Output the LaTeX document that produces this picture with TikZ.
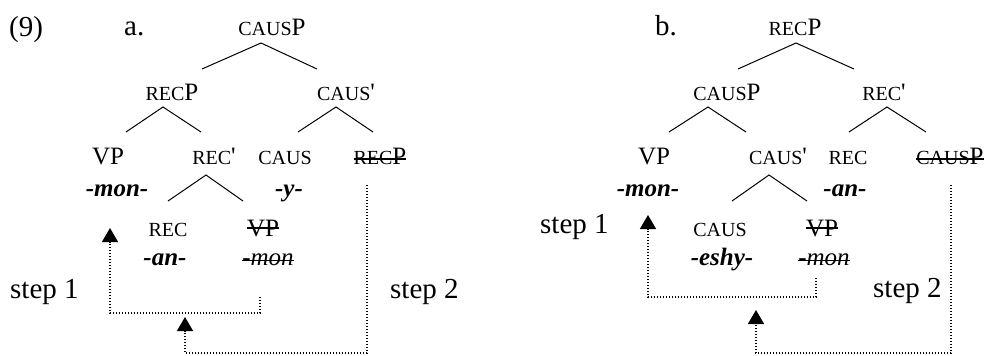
\documentclass[tikz,border=0pt]{standalone}
\usepackage{fontspec}
\setmainfont{Liberation Serif}
\usetikzlibrary{arrows.meta}
\newcommand\sm[1]{{\fontsize{20pt}{20pt}\selectfont #1}}
\newcommand\strk[2]{\setbox0\hbox{#2}\rlap{\rule[#1]{\wd0}{1.4pt}}\box0}
\newcommand\bi[1]{\textbf{\textit{#1}}}
\newcommand\apo{\textquotesingle}
\begin{document}
\begin{tikzpicture}[x=1pt,y=-1pt,
  every node/.style={font=\fontsize{25pt}{28pt}\selectfont, inner sep=0pt, anchor=base},
  lbl/.style={anchor=base west, font=\fontsize{29pt}{32pt}\selectfont},
  edge/.style={line width=1pt},
  mv/.style={line width=1.3pt, dash pattern=on 1.3pt off 1.7pt, -{Triangle[width=16pt,length=14pt]}}]
\useasboundingbox (0,0) rectangle (989,356);
% ---------- tree a ----------
\node[lbl] (n9) at (9,36) {(9)};
\node[lbl] (la) at (124,35) {a.};
\node (aroot) at (272,35) {\sm{CAUS}P};
\node (arecP) at (172,100) {\sm{REC}P};
\node (acausb) at (346,100) {\sm{CAUS}\apo};
\node (aVP) at (108,164) {VP};
\node (arecb) at (214,164) {\sm{REC}\apo};
\node (acaus) at (285,164) {\sm{CAUS}};
\node (arecPs) at (380,164) {\strk{4.5pt}{\sm{REC}P}};
\node (amon) at (117,196) {\bi{-mon-}};
\node (ay) at (289,196) {\bi{-y-}};
\node (arec) at (168,236) {\sm{REC}};
\node (aVPs) at (263,236) {\strk{7.5pt}{VP}};
\node (aan) at (165,265) {\bi{-an-}};
\node (amons) at (268,265) {\strk{4pt}{\textit{-mon}}};
\node[lbl] (astep1) at (10,298) {step 1};
\node[lbl] (astep2) at (390,298) {step 2};
\coordinate (a1) at (261,43); \coordinate (a1l) at (202,69); \coordinate (a1r) at (317,69);
\coordinate (a2) at (163,107); \coordinate (a2l) at (126,132); \coordinate (a2r) at (201,132);
\coordinate (a3) at (336,107); \coordinate (a3l) at (298,132); \coordinate (a3r) at (373,132);
\coordinate (a4) at (206,175); \coordinate (a4l) at (168,201); \coordinate (a4r) at (243,201);
\draw[edge] (a1l) -- (a1) -- (a1r);
\draw[edge] (a2l) -- (a2) -- (a2r);
\draw[edge] (a3l) -- (a3) -- (a3r);
\draw[edge] (a4l) -- (a4) -- (a4r);
\coordinate (am1s) at (260,297); \coordinate (am1t) at (110,228);
\coordinate (am2s) at (367,185); \coordinate (am2t) at (185,317);
\draw[mv] (am1s) -- (260,313) -- (110,313) -- (am1t);
\draw[mv] (am2s) -- (367,353) -- (185,353) -- (am2t);
% ---------- tree b ----------
\node[lbl] (lb) at (655,35) {b.};
\node (broot) at (795,35) {\sm{REC}P};
\node (bcausP) at (727,100) {\sm{CAUS}P};
\node (brecb) at (884,100) {\sm{REC}\apo};
\node (bVP) at (654,164) {VP};
\node (bcausb) at (778,164) {\sm{CAUS}\apo};
\node (brec) at (848,164) {\sm{REC}};
\node (bcausPs) at (950,164) {\strk{4.5pt}{\sm{CAUS}P}};
\node (bmon) at (648,196) {\bi{-mon-}};
\node (ban) at (845,196) {\bi{-an-}};
\node[lbl] (bstep1) at (540,233) {step 1};
\node (bcaus) at (720,236) {\sm{CAUS}};
\node (bVPs) at (822,236) {\strk{7.5pt}{VP}};
\node (beshy) at (722,265) {\bi{-eshy-}};
\node (bmons) at (824,265) {\strk{4pt}{\textit{-mon}}};
\node[lbl] (bstep2) at (873,297) {step 2};
\coordinate (b1) at (796,43); \coordinate (b1l) at (738,69); \coordinate (b1r) at (854,69);
\coordinate (b2) at (708,107); \coordinate (b2l) at (669,132); \coordinate (b2r) at (746,132);
\coordinate (b3) at (887,107); \coordinate (b3l) at (849,132); \coordinate (b3r) at (926,132);
\coordinate (b4) at (769,175); \coordinate (b4l) at (732,201); \coordinate (b4r) at (807,201);
\draw[edge] (b1l) -- (b1) -- (b1r);
\draw[edge] (b2l) -- (b2) -- (b2r);
\draw[edge] (b3l) -- (b3) -- (b3r);
\draw[edge] (b4l) -- (b4) -- (b4r);
\coordinate (bm1s) at (816,278); \coordinate (bm1t) at (648,215);
\coordinate (bm2s) at (951,185); \coordinate (bm2t) at (756,310);
\draw[mv] (bm1s) -- (816,297) -- (648,297) -- (bm1t);
\draw[mv] (bm2s) -- (951,353) -- (756,353) -- (bm2t);
\end{tikzpicture}
\end{document}
